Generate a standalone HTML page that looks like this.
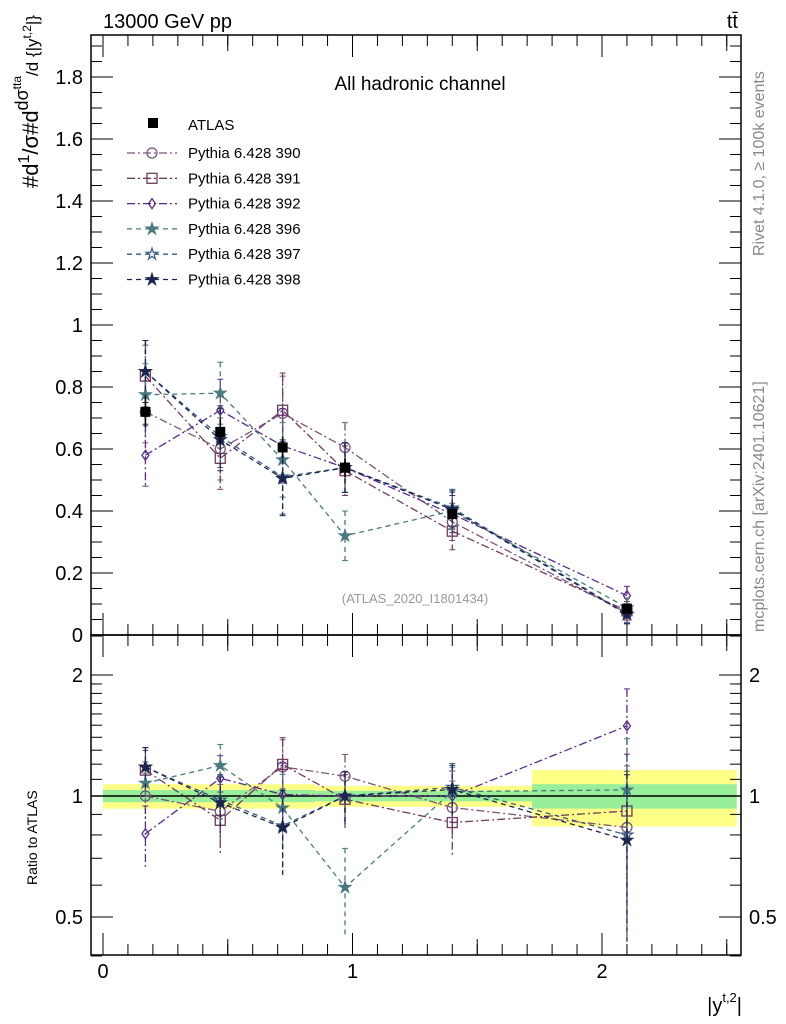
<!DOCTYPE html>
<html><head><meta charset="utf-8">
<style>
body{margin:0;background:#fff;}
svg{display:block;font-family:"Liberation Sans",Arial,sans-serif;}
</style></head>
<body>
<svg id="chart" width="786" height="1024" viewBox="0 0 786 1024" xmlns="http://www.w3.org/2000/svg">
<text x="103" y="28" font-size="20">13000 GeV pp</text>
<text x="738" y="28" font-size="20" text-anchor="end">tt̄</text>
<text x="420" y="90" font-size="19" text-anchor="middle">All hadronic channel</text>
<text x="415" y="603" font-size="13" fill="#999" text-anchor="middle">(ATLAS_2020_I1801434)</text>
<text transform="translate(764,256) rotate(-90)" font-size="16" fill="#888">Rivet 4.1.0, ≥ 100k events</text>
<text transform="translate(764,632) rotate(-90)" font-size="16" fill="#888">mcplots.cern.ch [arXiv:2401.10621]</text>
<text transform="translate(38,188) rotate(-90)" font-size="22">#d<tspan font-size="16" dy="-9">1</tspan><tspan dy="9">/σ#d</tspan><tspan font-size="18" dy="-10">dσ</tspan><tspan font-size="12" dy="-7">tta</tspan><tspan font-size="17" dy="17">/d {|y</tspan><tspan font-size="12" dy="-7">t,2</tspan><tspan font-size="17" dy="7">|}</tspan></text>
<text transform="translate(37,885) rotate(-90)" font-size="14">Ratio to ATLAS</text>
<text x="742" y="1012" font-size="20" text-anchor="end">|y<tspan font-size="13" dy="-10">t,2</tspan><tspan dy="10">|</tspan></text>
<g id="g"></g>
</svg>
<script>
const binEdges=[0,0.335,0.6,0.85,1.12,1.72,2.54];
const xCenters=[0.17,0.47,0.72,0.97,1.4,2.1];
const atlas=[0.72,0.655,0.605,0.54,0.39,0.085];
const atlasErr=[0.05,0.04,0.035,0.03,0.02,0.008];
const bandYellow=[0.07,0.07,0.07,0.06,0.06,0.16];
const bandGreen=[0.035,0.035,0.035,0.03,0.03,0.07];
const names=["Pythia 6.428 390","Pythia 6.428 391","Pythia 6.428 392","Pythia 6.428 396","Pythia 6.428 397","Pythia 6.428 398"];
const s390=[0.72,0.60,0.715,0.605,0.365,0.071];
const s391=[0.835,0.57,0.725,0.53,0.335,0.078];
const s392=[0.58,0.725,0.61,0.54,0.39,0.127];
const s396=[0.775,0.78,0.565,0.32,0.40,0.088];
const s397=[0.85,0.64,0.51,0.54,0.41,0.068];
const s398=[0.85,0.63,0.505,0.54,0.405,0.066];
const mcErr=[0.1,0.1,0.12,0.08,0.06,0.03];
const series=[s390,s391,s392,s396,s397,s398];
const colors=["#7a557a","#6e3c5e","#5a2a8a","#4a7a80","#3a5a7e","#1c2450"];
const dashes=["8,3,2,3","8,3,2,3","8,3,2,3","5,4","5,4","5,4"];
const markers=["circle","square","diamond","starF","starO","starF"];
const yTicks=[0,0.2,0.4,0.6,0.8,1,1.2,1.4,1.6,1.8];
const rTicks=[0.5,1,2];

const L=91,R=741,T=35,M=635,B=955;
const X=v=>103+v*249.5;
const Y=v=>635-v*310;
const RY=v=>796-Math.log2(v)*121;
const g=document.getElementById('g');
const NS="http://www.w3.org/2000/svg";
function el(t,a,p){const e=document.createElementNS(NS,t);for(const k in a)e.setAttribute(k,a[k]);(p||g).appendChild(e);return e;}

binEdges.slice(0,-1).forEach((e0,i)=>{
  const x0=X(e0),x1=X(binEdges[i+1]);
  const r=el('rect',{x:x0,y:RY(1+bandYellow[i]),width:x1-x0,height:RY(1-bandYellow[i])-RY(1+bandYellow[i]),fill:"#ffff88"});
  
  
  const q=el('rect',{x:x0,y:RY(1+bandGreen[i]),width:x1-x0,height:RY(1-bandGreen[i])-RY(1+bandGreen[i]),fill:"#99ee99"});
  
  
});
el('line',{x1:L,x2:R,y1:RY(1),y2:RY(1),stroke:"#000","stroke-width":1.5});

const f1=el('rect',{x:L,y:T,width:R-L,height:M-T,fill:"none",stroke:"#000","stroke-width":1.5});


const f2=el('rect',{x:L,y:M,width:R-L,height:B-M,fill:"none",stroke:"#000","stroke-width":1.5});



for(let v=0;v<=1.93;v+=0.05){
  const maj=Math.abs(v/0.2-Math.round(v/0.2))<1e-6;const len=maj?22:11;const y=Y(v);
  el('line',{x1:L,x2:L+len,y1:y,y2:y,stroke:"#000"});
  el('line',{x1:R,x2:R-len,y1:y,y2:y,stroke:"#000"});
}
yTicks.forEach(v=>{const t=el('text',{x:L-8,y:Y(v)+7,"font-size":20,"text-anchor":"end"});t.textContent=(v===0?"0":String(v));
  
  });
[0.4,0.6,0.7,0.8,0.9,1.1,1.2,1.3,1.4,1.5,1.6,1.7,1.8,1.9,2.5].forEach(v=>{const y=RY(v);
  el('line',{x1:L,x2:L+11,y1:y,y2:y,stroke:"#000"});el('line',{x1:R,x2:R-11,y1:y,y2:y,stroke:"#000"});});
rTicks.forEach(v=>{const y=RY(v);
  el('line',{x1:L,x2:L+22,y1:y,y2:y,stroke:"#000"});el('line',{x1:R,x2:R-22,y1:y,y2:y,stroke:"#000"});
  const t=el('text',{x:L-8,y:y+7,"font-size":20,"text-anchor":"end"});t.textContent=String(v);
  
  
  const t2=el('text',{x:R+8,y:y+7,"font-size":20});t2.textContent=String(v);
  
  });
for(let i=0;i<=25;i++){const v=i/10;const x=X(v);const maj=i%10===0;const len=maj?22:11;
  [[T,1],[M,-1],[M,1],[B,-1]].forEach(([y0,d])=>el('line',{x1:x,x2:x,y1:y0,y2:y0+d*len,stroke:"#000"}));
  if(i%5===0&&!maj) [[T,1],[M,-1],[M,1],[B,-1]].forEach(([y0,d])=>el('line',{x1:x,x2:x,y1:y0,y2:y0+d*16,stroke:"#000"}));
  if(maj){const t=el('text',{x:x,y:978,"font-size":20,"text-anchor":"middle"});t.textContent=String(i/10);
    
    }
}

function marker(type,x,y,c,parent,sz){
  sz=sz||5;
  if(type==="circle")return el('circle',{cx:x,cy:y,r:sz,fill:"none",stroke:c,"stroke-width":1.3},parent);
  if(type==="square")return el('rect',{x:x-sz,y:y-sz,width:2*sz,height:2*sz,fill:"none",stroke:c,"stroke-width":1.3},parent);
  if(type==="diamond")return el('polygon',{points:`${x},${y-sz} ${x+sz*0.7},${y} ${x},${y+sz} ${x-sz*0.7},${y}`,fill:"none",stroke:c,"stroke-width":1.3},parent);
  let p=[];for(let k=0;k<10;k++){const r=k%2?sz*0.45:sz*1.2;const a=-Math.PI/2+k*Math.PI/5;p.push((x+r*Math.cos(a)).toFixed(1)+","+(y+r*Math.sin(a)).toFixed(1));}
  return el('polygon',{points:p.join(" "),fill:type==="starF"?c:"none",stroke:c,"stroke-width":1.2},parent);
}

series.forEach((s,k)=>{
  const grp=el('g',{});
  
  
  const c=colors[k];
  const mp=s.map((v,i)=>X(xCenters[i])+","+Y(v)).join(" ");
  el('polyline',{points:mp,fill:"none",stroke:c,"stroke-width":1.3,"stroke-dasharray":dashes[k]},grp);
  const rp=s.map((v,i)=>X(xCenters[i])+","+RY(v/atlas[i])).join(" ");
  el('polyline',{points:rp,fill:"none",stroke:c,"stroke-width":1.3,"stroke-dasharray":dashes[k]},grp);
  s.forEach((v,i)=>{const x=X(xCenters[i]);
    const e=mcErr[i];
    el('line',{x1:x,x2:x,y1:Y(v+e),y2:Y(Math.max(v-e,0)),stroke:c,"stroke-width":1.3,"stroke-dasharray":dashes[k]},grp);
    el('line',{x1:x-3,x2:x+3,y1:Y(v+e),y2:Y(v+e),stroke:c},grp);
    el('line',{x1:x-3,x2:x+3,y1:Y(Math.max(v-e,0)),y2:Y(Math.max(v-e,0)),stroke:c},grp);
    const r=v/atlas[i],re=e/atlas[i];
    el('line',{x1:x,x2:x,y1:RY(r+re),y2:RY(Math.max(r-re,0.41)),stroke:c,"stroke-width":1.3,"stroke-dasharray":dashes[k]},grp);
    el('line',{x1:x-3,x2:x+3,y1:RY(r+re),y2:RY(r+re),stroke:c},grp);
    marker(markers[k],x,Y(v),c,grp);
    marker(markers[k],x,RY(r),c,grp);
  });
});
const ag=el('g',{});


atlas.forEach((v,i)=>{const x=X(xCenters[i]);
  el('line',{x1:x,x2:x,y1:Y(v+atlasErr[i]),y2:Y(v-atlasErr[i]),stroke:"#000","stroke-width":1.5},ag);
  el('rect',{x:x-5,y:Y(v)-5,width:10,height:10,fill:"#000"},ag);
});

const lg=el('g',{});


el('rect',{x:148,y:118,width:10,height:10,fill:"#000"},lg);
let t=el('text',{x:188,y:130,"font-size":15},lg);t.textContent="ATLAS";
names.forEach((n,k)=>{const y=153+k*25.3;
  el('line',{x1:127,x2:177,y1:y,y2:y,stroke:colors[k],"stroke-width":1.3,"stroke-dasharray":dashes[k]},lg);
  marker(markers[k],152,y,colors[k],lg);
  const tt=el('text',{x:188,y:y+5,"font-size":15},lg);tt.textContent=n;
  
  
});
</script>
</body></html>
